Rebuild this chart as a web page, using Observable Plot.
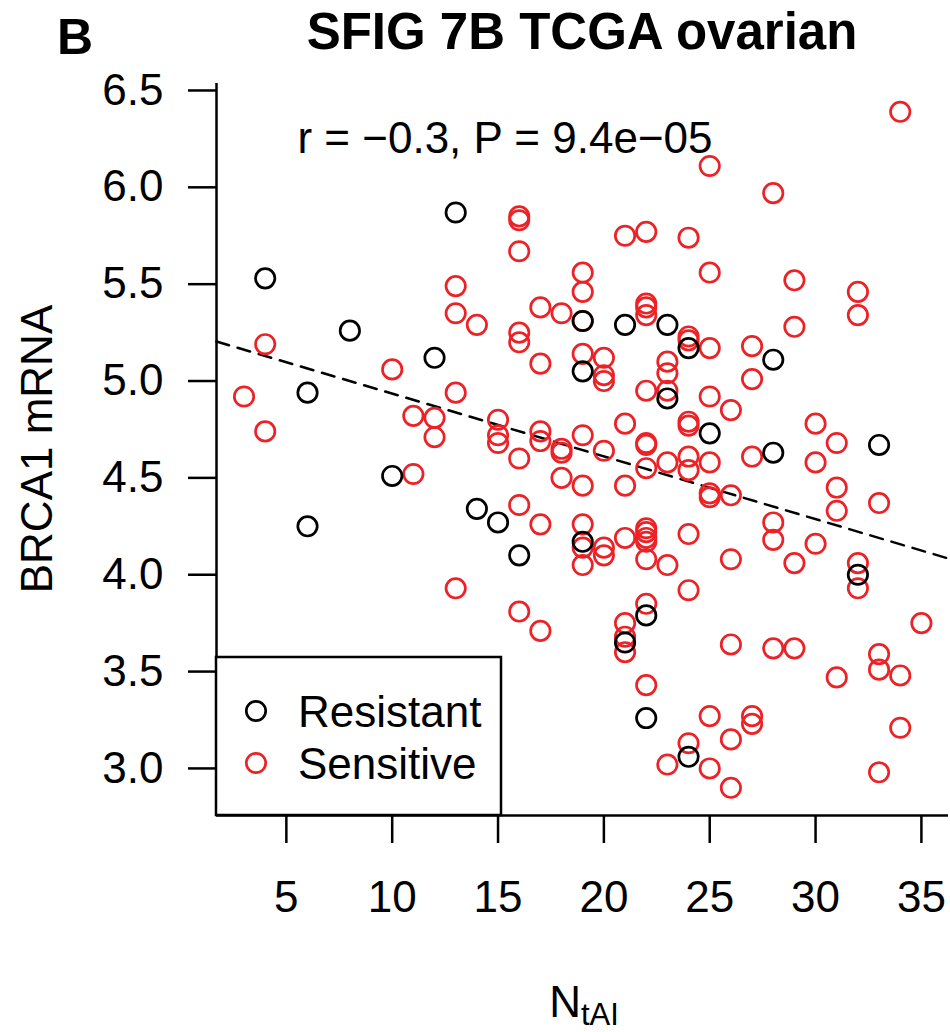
<!DOCTYPE html>
<html>
<head>
<meta charset="utf-8">
<script src="https://cdn.jsdelivr.net/npm/d3@7"></script>
<script src="https://cdn.jsdelivr.net/npm/@observablehq/plot@0.6"></script>
<style>
  html, body { margin: 0; padding: 0; background: #fff; overflow: hidden; }
  #chart { width: 950px; height: 1032px; }
  svg { display: block; }
</style>
</head>
<body>
<div id="chart"></div>
<script>
// ---- data ----
const resistantX = [4, 6, 6, 8, 10, 12, 13, 14, 15, 16, 19, 19, 19, 21, 21, 22, 22, 23, 23, 24, 24, 25, 28, 28, 32, 33];
const resistantY = [5.53, 4.94, 4.25, 5.26, 4.51, 5.12, 5.87, 4.34, 4.27, 4.10, 5.31, 5.05, 4.17, 5.29, 3.65, 3.79, 3.26, 5.29, 4.91, 5.17, 3.06, 4.73, 5.11, 4.63, 4.00, 4.67];

const sensitiveX = [
  3,
  4, 4,
  10,
  11, 11,
  12, 12,
  13, 13, 13, 13,
  14,
  15, 15, 15,
  16, 16, 16, 16, 16, 16, 16, 16,
  17, 17, 17, 17, 17, 17,
  18, 18, 18, 18,
  19, 19, 19, 19, 19, 19, 19, 19, 19,
  20, 20, 20, 20, 20, 20,
  21, 21, 21, 21, 21, 21, 21,
  22, 22, 22, 22, 22, 22, 22, 22, 22, 22, 22, 22, 22, 22, 22,
  23, 23, 23, 23, 23, 23,
  24, 24, 24, 24, 24, 24, 24, 24, 24, 24,
  25, 25, 25, 25, 25, 25, 25, 25, 25,
  26, 26, 26, 26, 26, 26,
  27, 27, 27, 27, 27,
  28, 28, 28, 28,
  29, 29, 29, 29,
  30, 30, 30,
  31, 31, 31, 31,
  32, 32, 32, 32,
  33, 33, 33, 33,
  34, 34, 34,
  35
];
const sensitiveY = [
  4.92,
  5.19, 4.74,
  5.06,
  4.82, 4.52,
  4.81, 4.71,
  5.49, 5.35, 4.94, 3.93,
  5.29,
  4.80, 4.72, 4.68,
  5.85, 5.83, 5.67, 5.25, 5.20, 4.60, 4.36, 3.81,
  5.38, 5.09, 4.74, 4.69, 4.26, 3.71,
  5.35, 4.65, 4.63, 4.50,
  5.56, 5.46, 5.31, 5.14, 4.72, 4.46, 4.26, 4.14, 4.05,
  5.12, 5.03, 5.00, 4.64, 4.14, 4.10,
  5.75, 4.78, 4.46, 4.19, 3.75, 3.68, 3.60,
  5.77, 5.40, 5.38, 5.34, 4.95, 4.68, 4.67, 4.55, 4.24, 4.22, 4.19, 4.17, 4.08, 3.85, 3.43,
  5.10, 5.04, 4.95, 4.58, 4.05, 3.02,
  5.74, 5.23, 5.21, 4.79, 4.77, 4.61, 4.54, 4.21, 3.92, 3.13,
  6.11, 5.56, 5.17, 4.92, 4.58, 4.42, 4.40, 3.27, 3.00,
  4.85, 4.41, 4.08, 3.64, 3.15, 2.90,
  5.18, 5.01, 4.61, 3.27, 3.23,
  5.97, 4.27, 4.18, 3.62,
  5.52, 5.28, 4.06, 3.62,
  4.78, 4.58, 4.16,
  4.68, 4.45, 4.33, 3.47,
  5.46, 5.34, 4.06, 3.93,
  4.37, 3.59, 3.51, 2.98,
  6.39, 3.48, 3.21,
  3.75
];

const xTicks = [5, 10, 15, 20, 25, 30, 35];
const yTicks = [3.0, 3.5, 4.0, 4.5, 5.0, 5.5, 6.0, 6.5];
const fitIntercept = 5.259;
const fitSlope = -0.0324;
const groups = ["Resistant", "Sensitive"];
const groupColors = ["#000000", "#EC2227"];
const titleText = "SFIG 7B TCGA ovarian";
const panelLetter = "B";
const statText = "r = \u22120.3, P = 9.4e\u221205";
const yLabel = "BRCA1 mRNA";
const xLabelMain = "N";
const xLabelSub = "tAI";

// ---- build ----
const resistant = resistantX.map((x, i) => ({x, y: resistantY[i]}));
const sensitive = sensitiveX.map((x, i) => ({x, y: sensitiveY[i]}));
const xDomain = [1.70, 36.28];
const yDomain = [2.757, 6.536];
const fitLine = xDomain.map(x => ({x, y: fitIntercept + fitSlope * x}));

const FONT = "'Liberation Sans', Arial, Helvetica, sans-serif";
const W = 950, H = 1032;
const mL = 216, mR = 2, mT = 83, mB = 217;

const plot = Plot.plot({
  width: W,
  height: H,
  marginLeft: mL,
  marginRight: mR,
  marginTop: mT,
  marginBottom: mB,
  style: {fontFamily: FONT, color: "#000", background: "#fff", overflow: "visible"},
  x: {domain: xDomain},
  y: {domain: yDomain},
  marks: [
    Plot.axisY({ticks: yTicks, tickSize: 28, tickPadding: 25, fontSize: 44, strokeWidth: 2.5,
                tickFormat: d => d.toFixed(1), label: null}),
    Plot.axisX({ticks: xTicks, tickSize: 28, tickPadding: 37, fontSize: 44, strokeWidth: 2.5,
                tickFormat: d => String(d), label: null}),
    Plot.ruleX([xDomain[0]], {stroke: "#000", strokeWidth: 2.5}),
    Plot.ruleY([yDomain[0]], {stroke: "#000", strokeWidth: 2.5}),
    Plot.line(fitLine, {x: "x", y: "y", stroke: "#000", strokeWidth: 2.5, strokeDasharray: "13,9"}),
    Plot.dot(sensitive, {x: "x", y: "y", r: 9.7, stroke: groupColors[1], strokeWidth: 2.7, fill: "none"}),
    Plot.dot(resistant, {x: "x", y: "y", r: 9.7, stroke: groupColors[0], strokeWidth: 2.7, fill: "none"})
  ]
});

document.getElementById("chart").appendChild(plot);

// ---- annotations (text, legend) ----
const svg = d3.select(plot);
svg.append("text").attr("x", 57).attr("y", 54).attr("text-anchor", "start")
  .attr("font-family", FONT).attr("font-size", 50).attr("font-weight", "bold").attr("fill", "#000")
  .text(panelLetter);
svg.append("text").attr("x", (mL + W - mR) / 2).attr("y", 49).attr("text-anchor", "middle")
  .attr("font-family", FONT).attr("font-size", 51).attr("font-weight", "bold").attr("fill", "#000")
  .text(titleText);
svg.append("text").attr("x", 505).attr("y", 153).attr("text-anchor", "middle")
  .attr("font-family", FONT).attr("font-size", 44).attr("fill", "#000")
  .text(statText);
svg.append("text").attr("transform", `translate(52,${(mT + H - mB) / 2}) rotate(-90)`)
  .attr("text-anchor", "middle")
  .attr("font-family", FONT).attr("font-size", 44).attr("fill", "#000")
  .text(yLabel);
const xl = svg.append("text").attr("x", 584).attr("y", 1017).attr("text-anchor", "middle")
  .attr("font-family", FONT).attr("font-size", 44).attr("fill", "#000");
xl.append("tspan").text(xLabelMain);
xl.append("tspan").attr("font-size", 31).attr("dy", 8).text(xLabelSub);

// legend box
const lg = svg.append("g");
lg.append("rect").attr("x", mL).attr("y", 657).attr("width", 285).attr("height", H - mB - 657)
  .attr("fill", "#fff").attr("stroke", "#000").attr("stroke-width", 2.5);
groups.forEach((g, i) => {
  const cy = 711 + i * 52;
  lg.append("circle").attr("cx", 256).attr("cy", cy).attr("r", 9.7)
    .attr("fill", "none").attr("stroke", groupColors[i]).attr("stroke-width", 2.7);
  lg.append("text").attr("x", 298).attr("y", cy + 16).attr("text-anchor", "start")
    .attr("font-family", FONT).attr("font-size", 44).attr("fill", "#000").text(g);
});
</script>
</body>
</html>
